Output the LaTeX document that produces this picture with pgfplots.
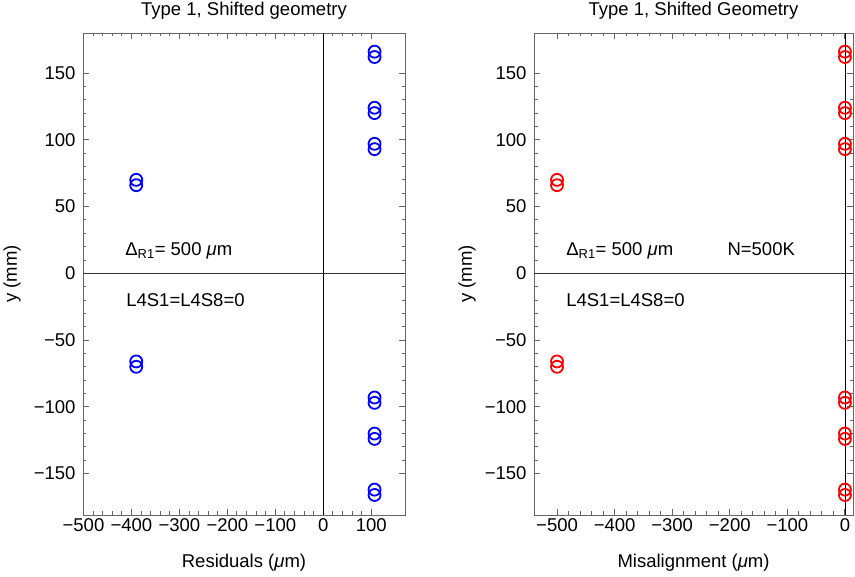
\documentclass[border=0pt]{standalone}
\usepackage{pgfplots}
\pgfplotsset{compat=1.18}
\usepackage{fontspec}
\setmainfont{Liberation Sans}

\newcommand{\fs}{\fontsize{18.5}{22}\selectfont}

\pgfplotsset{
  mma/.style={
    scale only axis, height=482pt,
    axis line style={black!60, line width=0.9pt},
    tick style={black!60, line width=0.9pt},
    major tick length=6pt, minor tick length=3.5pt,
    tick align=inside,
    minor x tick num=4, minor y tick num=4,
    ymin=-181, ymax=180,
    ytick={-150,-100,...,150},
    yticklabels={−150,−100,−50,0,50,100,150},
    tick label style={font=\fs},
    yticklabel style={xshift=-4pt},
    title style={font=\fs, inner sep=0pt, at={(axis description cs:0.5,1)}, anchor=base, yshift=11pt},
    xlabel style={font=\fs, inner sep=0pt, at={(axis description cs:0.5,0)}, anchor=base, yshift=-53pt},
    ylabel style={font=\fs, inner sep=0pt, anchor=center},
    clip=false,
  },
}

\begin{document}
\begin{tikzpicture}
% left panel: residuals
\begin{axis}[mma,
  at={(0pt,0pt)}, anchor=south west,
  width=322pt,
  xmin=-501, xmax=170.5,
  xtick={-500,-400,...,100},
  xticklabels={−500,−400,−300,−200,−100,0,100},
  title={Type 1, Shifted geometry},
  xlabel={Residuals (\textit{μ}m)},
  ylabel={y (mm)},
  every axis y label/.append style={at={([xshift=-71pt]axis description cs:0,0.5)}},
]
\draw[black, line width=0.8pt] (axis cs:0,-181) -- (axis cs:0,180);
\draw[black!80, line width=0.8pt] (axis cs:-501,0) -- (axis cs:170.5,0);
\addplot[only marks, mark=o, blue, mark size=6pt, line width=1.8pt] coordinates {
  (-390,70) (-390,66) (-390,-66) (-390,-70)
  (107,166) (107,162) (107,124) (107,120) (107,97) (107,93)
  (107,-93) (107,-97) (107,-120) (107,-124) (107,-162) (107,-166)
};
\node[font=\fs, anchor=base west] at (axis cs:-420,13) {Δ\textsubscript{R1}= 500 \textit{μ}m};
\node[font=\fs, anchor=base west] at (axis cs:-418,-25) {L4S1=L4S8=0};
\end{axis}

% right panel: misalignment
\begin{axis}[mma,
  at={(451pt,0pt)}, anchor=south west,
  width=319pt,
  xmin=-540, xmax=14,
  xtick={-500,-400,...,0},
  xticklabels={−500,−400,−300,−200,−100,0},
  title={Type 1, Shifted Geometry},
  xlabel={Misalignment (\textit{μ}m)},
  ylabel={y (mm)},
  every axis y label/.append style={at={([xshift=-67pt]axis description cs:0,0.5)}},
]
\draw[black, line width=0.8pt] (axis cs:0,-181) -- (axis cs:0,180);
\draw[black!80, line width=0.8pt] (axis cs:-540,0) -- (axis cs:14,0);
\addplot[only marks, mark=o, red, mark size=6pt, line width=1.8pt] coordinates {
  (-500,70) (-500,66) (-500,-66) (-500,-70)
  (0,166) (0,162) (0,124) (0,120) (0,97) (0,93)
  (0,-93) (0,-97) (0,-120) (0,-124) (0,-162) (0,-166)
};
\node[font=\fs, anchor=base west] at (axis cs:-490,13) {Δ\textsubscript{R1}= 500 \textit{μ}m};
\node[font=\fs, anchor=base west] at (axis cs:-210,13) {N=500K};
\node[font=\fs, anchor=base west] at (axis cs:-490,-25) {L4S1=L4S8=0};
\end{axis}

\path[use as bounding box] (-83pt,-62pt) rectangle (772pt,515pt);
\end{tikzpicture}
\end{document}
